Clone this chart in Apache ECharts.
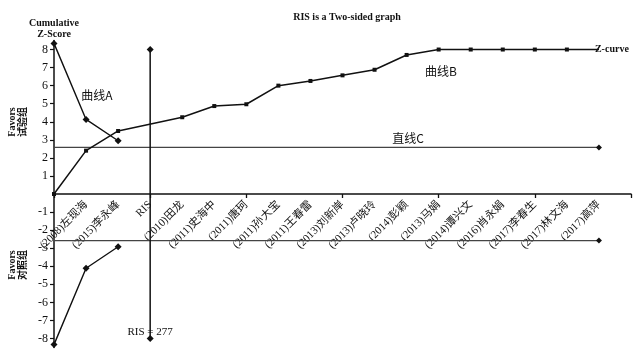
<!DOCTYPE html>
<html>
<head>
<meta charset="utf-8">
<script src="https://cdn.jsdelivr.net/npm/echarts@6/dist/echarts.min.js"></script>
<style>
  html, body { margin: 0; padding: 0; background: #fff; }
  #chart { width: 636px; height: 349px; }
</style>
</head>
<body>
<div id="chart"></div>
<script>
// Trial sequential analysis: cumulative Z-curve against monitoring boundaries
const categories = ['', '(2008)左现海', '(2015)李永峰', 'RIS', '(2010)田龙', '(2011)史海中',
  '(2011)唐珂', '(2011)孙大宝', '(2011)王春雷', '(2013)刘新岸', '(2013)卢晓玲', '(2014)彭颖',
  '(2013)马娟', '(2014)谭兴文', '(2016)肖永娟', '(2017)李春生', '(2017)林文海', '(2017)高萍', ' '];

// cumulative Z-score per trial (RIS column has no trial)
const zCurve = [0, 2.4, 3.49, null, 4.25, 4.87, 4.97, 6.0, 6.26, 6.57, 6.88, 7.7, 8, 8, 8, 8, 8, 8];
// monitoring boundaries (upper / lower)
const boundaryUpper = [8.34, 4.13, 2.95];
const boundaryLower = [-8.34, -4.11, -2.92];
// conventional significance line
const conventionalZ = 2.58;
// required information size marker
const risIndex = 3;
const risRange = [8, -8];
const risLabel = 'RIS = 277';
const yTicks = [-8, -7, -6, -5, -4, -3, -2, -1, 1, 2, 3, 4, 5, 6, 7, 8];
const yMin = -8.5, yMax = 8.5;

const lastTrial = zCurve.length - 1;
const serif = '"Liberation Serif", "Noto Sans CJK SC", serif';
const cjk = '"Noto Sans CJK SC", sans-serif';
const ink = '#111';

const gridTop = 40.5, gridBottom = 1.5, chartH = 349;
const plotH = chartH - gridTop - gridBottom;
// shift the label axis up from the grid bottom to the zero line
const zeroShift = plotH * (0 - yMin) / (yMax - yMin);

const chart = echarts.init(document.getElementById('chart'), null, { renderer: 'canvas' });

chart.setOption({
  animation: false,
  backgroundColor: '#fff',
  title: {
    text: 'RIS is a Two-sided graph',
    left: 342, top: 7, textAlign: 'center',
    textStyle: { fontFamily: serif, fontSize: 10, fontWeight: 'bold', color: ink }
  },
  grid: { left: 54, right: 5, top: gridTop, bottom: gridBottom, containLabel: false, outerBoundsMode: 'none' },
  xAxis: [{
    type: 'category',
    data: categories,
    boundaryGap: false,
    axisLine: { onZero: true, lineStyle: { color: ink, width: 1.5 } },
    axisTick: { show: true, length: 4, inside: false, lineStyle: { color: ink, width: 1.3 } },
    axisLabel: { show: false },
    splitLine: { show: false }
  }, {
    type: 'category',
    data: categories,
    boundaryGap: false,
    position: 'bottom',
    offset: -zeroShift,
    axisLine: { show: false, onZero: false },
    axisTick: { show: false },
    axisLabel: {
      rotate: 45, interval: 0, margin: 9,
      fontFamily: serif, fontSize: 11, color: ink
    },
    splitLine: { show: false }
  }],
  yAxis: {
    type: 'value',
    min: yMin, max: yMax,
    name: 'Cumulative\nZ-Score',
    nameLocation: 'end',
    nameGap: 1,
    nameTextStyle: { fontFamily: serif, fontSize: 10, fontWeight: 'bold', color: ink, lineHeight: 11, align: 'center' },
    axisLine: { show: true, lineStyle: { color: ink, width: 1.5 } },
    axisTick: { show: true, length: 4, customValues: yTicks, lineStyle: { color: ink, width: 1.2 } },
    axisLabel: { customValues: yTicks, margin: 6, fontFamily: serif, fontSize: 12, color: ink },
    splitLine: { show: false }
  },
  graphic: [
    { type: 'text', x: 18, y: 122, rotation: Math.PI / 2,
      style: { text: 'Favors\n试验组', font: 'bold 10px ' + serif, fill: ink, align: 'center', verticalAlign: 'middle', lineHeight: 11 } },
    { type: 'text', x: 18, y: 265, rotation: Math.PI / 2,
      style: { text: 'Favors\n对照组', font: 'bold 10px ' + serif, fill: ink, align: 'center', verticalAlign: 'middle', lineHeight: 11 } },
    { type: 'text', x: 97, y: 95,
      style: { text: '曲线A', font: '12px ' + cjk, fill: ink, align: 'center', verticalAlign: 'middle' } },
    { type: 'text', x: 441, y: 71,
      style: { text: '曲线B', font: '12px ' + cjk, fill: ink, align: 'center', verticalAlign: 'middle' } },
    { type: 'text', x: 408, y: 138,
      style: { text: '直线C', font: '12px ' + cjk, fill: ink, align: 'center', verticalAlign: 'middle' } }
  ],
  series: [
    {
      name: 'Z-curve', type: 'line',
      data: zCurve.map((v, i) => i === lastTrial ? { value: v, symbol: 'none' } : v),
      connectNulls: true,
      symbol: 'rect', symbolSize: 4,
      lineStyle: { color: ink, width: 1.5 },
      itemStyle: { color: ink },
      endLabel: {
        show: true, formatter: 'Z-curve', distance: -4,
        fontFamily: serif, fontSize: 10, fontWeight: 'bold', color: ink
      },
      z: 4
    },
    {
      name: 'upper boundary', type: 'line',
      data: boundaryUpper,
      symbol: 'diamond', symbolSize: 7,
      lineStyle: { color: ink, width: 1.4 },
      itemStyle: { color: ink },
      z: 4
    },
    {
      name: 'lower boundary', type: 'line',
      data: boundaryLower,
      symbol: 'diamond', symbolSize: 7,
      lineStyle: { color: ink, width: 1.4 },
      itemStyle: { color: ink },
      z: 4
    },
    {
      name: 'conventional upper', type: 'line',
      data: [[0, conventionalZ], { value: [lastTrial, conventionalZ], symbol: 'diamond', symbolSize: 6 }],
      symbol: 'none',
      lineStyle: { color: '#444', width: 1.2 },
      itemStyle: { color: ink },
      z: 3
    },
    {
      name: 'conventional lower', type: 'line',
      data: [[0, -conventionalZ], { value: [lastTrial, -conventionalZ], symbol: 'diamond', symbolSize: 6 }],
      symbol: 'none',
      lineStyle: { color: '#444', width: 1.2 },
      itemStyle: { color: ink },
      z: 3
    },
    {
      name: 'RIS', type: 'line',
      data: [[risIndex, risRange[0]], {
        value: [risIndex, risRange[1]],
        label: {
          show: true, position: 'top', distance: -3, formatter: risLabel,
          fontFamily: serif, fontSize: 11, color: ink
        }
      }],
      symbol: 'diamond', symbolSize: 7,
      lineStyle: { color: ink, width: 1.5 },
      itemStyle: { color: ink },
      z: 3
    }
  ]
});
</script>
</body>
</html>
